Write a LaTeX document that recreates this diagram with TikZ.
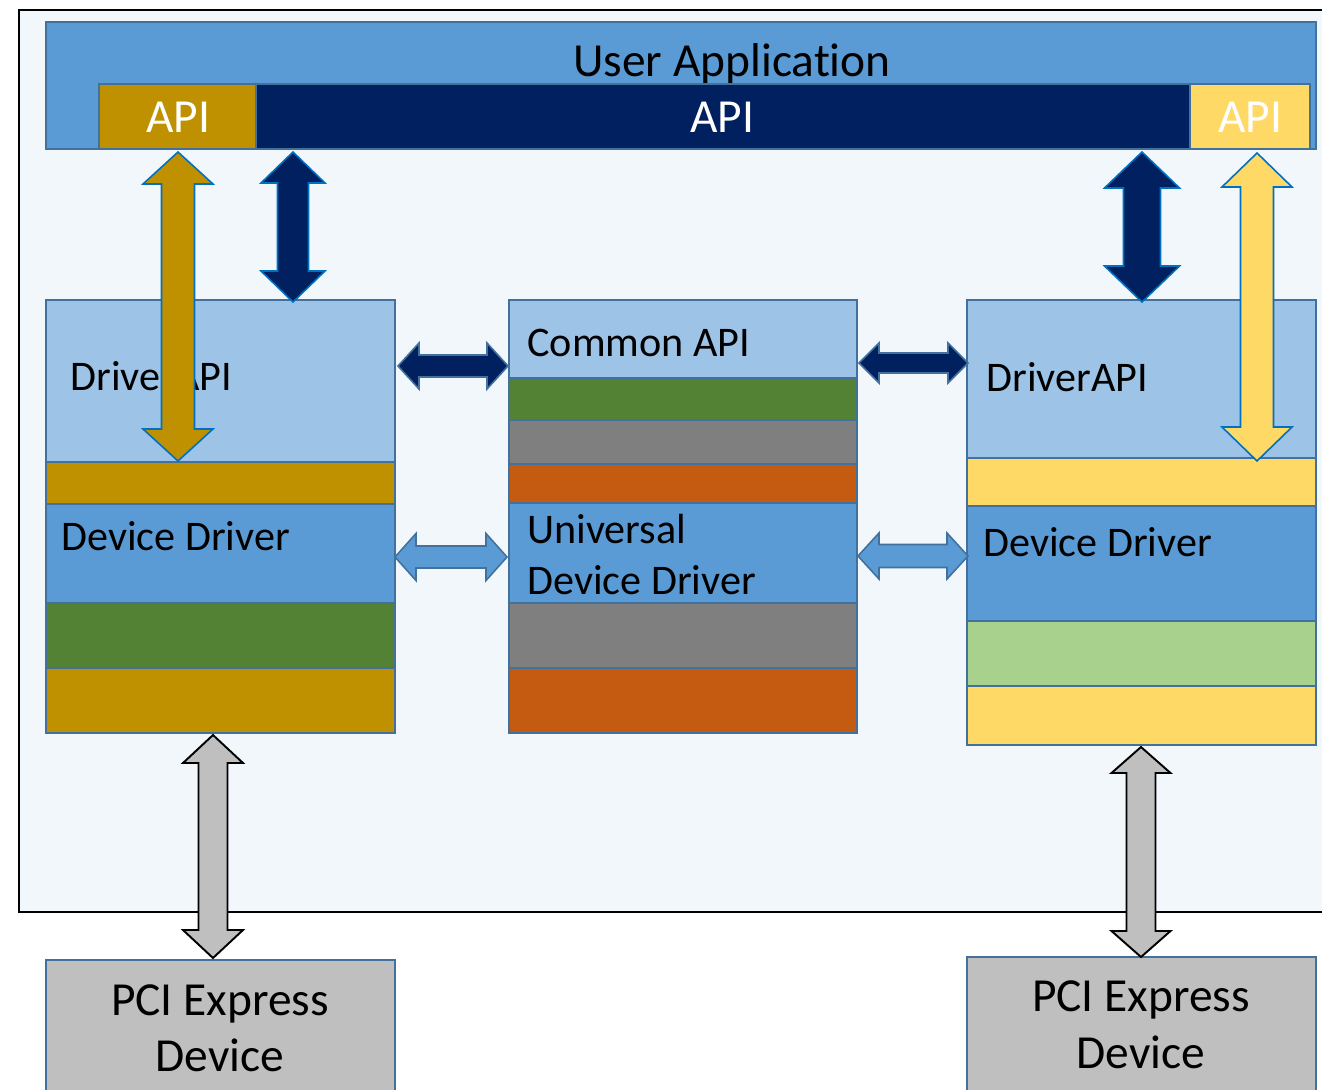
\documentclass[tikz,border=0pt]{standalone}
\usepackage{fontspec}
\setmainfont[Ligatures={NoCommon,NoContextual}]{Carlito}
\usetikzlibrary{calc}
\definecolor{bgc}{HTML}{F2F7FC}
\definecolor{ua}{HTML}{5B9BD5}
\definecolor{bd}{HTML}{41719C}
\definecolor{goldc}{HTML}{BF9000}
\definecolor{navy}{HTML}{002060}
\definecolor{yel}{HTML}{FFD966}
\definecolor{lblue}{HTML}{9DC3E6}
\definecolor{dgreen}{HTML}{548235}
\definecolor{lgreen}{HTML}{A9D18E}
\definecolor{grayc}{HTML}{7F7F7F}
\definecolor{orng}{HTML}{C55A11}
\definecolor{pcig}{HTML}{BFBFBF}
\definecolor{arrb}{HTML}{0070C0}
\tikzset{
  layer/.style={draw=bd, line width=1.2pt, inner sep=0, outer sep=0},
  lbl/.style={inner sep=0, anchor=base west, font=\fontsize{24}{28}\selectfont},
  bigc/.style={inner sep=0, anchor=base, font=\fontsize{27}{31}\selectfont},
  arrgold/.style={fill=goldc, draw=arrb, line width=0.9pt, line join=miter},
  arrnavy/.style={fill=navy, draw=arrb, line width=0.9pt, line join=miter},
  arryel/.style={fill=yel, draw=arrb, line width=0.9pt, line join=miter},
  arrhnavy/.style={fill=navy, draw=bd, line width=0.9pt, line join=miter},
  arrhblue/.style={fill=ua, draw=bd, line width=0.9pt, line join=miter},
  arrgray/.style={fill=pcig, draw=black, line width=1.1pt, line join=miter},
}
% #1 name, #2 x1, #3 y1, #4 x2, #5 y2, #6 fill
\newcommand\layer[6]{\node[layer, fill=#6, minimum width={(#4-#2)*0.02cm}, minimum height={(#5-#3)*0.02cm}, anchor=north west] (#1) at (#2,#3) {};}
% vertical double arrow: #1 style, #2 top tip, #3 bottom tip, #4 shaft half, #5 head half, #6 head length (px)
\newcommand\vdarrow[6]{\draw[#1] let \p1=(#2), \p2=(#3) in
  (\x1,\y1) -- (\x1+#5*0.56906pt,\y1-#6*0.56906pt) -- (\x1+#4*0.56906pt,\y1-#6*0.56906pt)
  -- (\x1+#4*0.56906pt,\y2+#6*0.56906pt) -- (\x1+#5*0.56906pt,\y2+#6*0.56906pt) -- (\x1,\y2)
  -- (\x1-#5*0.56906pt,\y2+#6*0.56906pt) -- (\x1-#4*0.56906pt,\y2+#6*0.56906pt)
  -- (\x1-#4*0.56906pt,\y1-#6*0.56906pt) -- (\x1-#5*0.56906pt,\y1-#6*0.56906pt) -- cycle;}
% horizontal double arrow: #2 left tip, #3 right tip
\newcommand\hdarrow[6]{\draw[#1] let \p1=(#2), \p2=(#3) in
  (\x1,\y1) -- (\x1+#6*0.56906pt,\y1+#5*0.56906pt) -- (\x1+#6*0.56906pt,\y1+#4*0.56906pt)
  -- (\x2-#6*0.56906pt,\y1+#4*0.56906pt) -- (\x2-#6*0.56906pt,\y1+#5*0.56906pt) -- (\x2,\y1)
  -- (\x2-#6*0.56906pt,\y1-#5*0.56906pt) -- (\x2-#6*0.56906pt,\y1-#4*0.56906pt)
  -- (\x1+#6*0.56906pt,\y1-#4*0.56906pt) -- (\x1+#6*0.56906pt,\y1-#5*0.56906pt) -- cycle;}
\begin{document}
\begin{tikzpicture}[x=0.02cm, y=-0.02cm]
\useasboundingbox (0,0) rectangle (1322,1089);
\fill[white] (0,0) rectangle (1322,1089);
% outer frame
\draw[fill=bgc, line width=1.4pt] (19,10) rectangle (1345,912);
% user application
\layer{ua}{46}{22}{1316}{149}{ua}
\node[bigc] (uat) at (732,76) {User Applicat\kern0pt ion};
\layer{apiL}{99}{84}{256}{149}{goldc}
\layer{apiM}{256}{84}{1190}{149}{navy}
\layer{apiR}{1190}{84}{1310}{149}{yel}
\node[bigc, text=white] (apiLt) at (178,132) {API};
\node[bigc, text=white] (apiMt) at (722,132) {API};
\node[bigc, text=white] (apiRt) at (1250,132) {API};
% left driver stack
\layer{l1}{46}{300}{395}{462}{lblue}
\layer{l2}{46}{462}{395}{504}{goldc}
\layer{l3}{46}{504}{395}{603}{ua}
\layer{l4}{46}{603}{395}{668}{dgreen}
\layer{l5}{46}{668}{395}{733}{goldc}
\node[lbl] (l1t) at (70,390) {DriverAPI};
\node[lbl] (l3t) at (61,550) {Device Driver};
% middle stack
\layer{m1}{509}{300}{857}{378}{lblue}
\layer{m2}{509}{378}{857}{420}{dgreen}
\layer{m3}{509}{420}{857}{464}{grayc}
\layer{m4}{509}{464}{857}{503}{orng}
\layer{m5}{509}{503}{857}{603}{ua}
\layer{m6}{509}{603}{857}{668}{grayc}
\layer{m7}{509}{668}{857}{733}{orng}
\node[lbl] (m1t) at (527,356) {Common API};
\node[lbl] (m5t) at (527,543) {Universal};
\node[lbl] (m5u) at (527,594) {Device Driver};
% right stack
\layer{r1}{967}{300}{1316}{458}{lblue}
\layer{r2}{967}{458}{1316}{506}{yel}
\layer{r3}{967}{506}{1316}{621}{ua}
\layer{r4}{967}{621}{1316}{686}{lgreen}
\layer{r5}{967}{686}{1316}{745}{yel}
\node[lbl] (r1t) at (986,391) {DriverAPI};
\node[lbl] (r3t) at (983,556) {Device Driver};
% PCI devices
\layer{pciL}{46}{960}{395}{1110}{pcig}
\layer{pciR}{967}{957}{1316}{1110}{pcig}
\node[bigc] (pciLa) at (220,1015) {PCI Express};
\node[bigc] (pciLb) at (220,1071) {Device};
\node[bigc] (pciRa) at (1141,1011) {PCI Express};
\node[bigc] (pciRb) at (1141,1068) {Device};
% arrow end points
\coordinate (ga) at (178,152);  \coordinate (gb) at (178,461);
\coordinate (na) at (293,152);  \coordinate (nb) at (293,302);
\coordinate (nc) at (1142,152); \coordinate (nd) at (1142,302);
\coordinate (ya) at (1257,153); \coordinate (yb) at (1257,461);
\coordinate (h1a) at (398,366); \coordinate (h1b) at (508,366);
\coordinate (h2a) at (859,363); \coordinate (h2b) at (968,363);
\coordinate (h3a) at (395,557); \coordinate (h3b) at (507,557);
\coordinate (h4a) at (858,556); \coordinate (h4b) at (968,556);
\coordinate (pa) at (213,735);  \coordinate (pb) at (213,958);
\coordinate (pc) at (1141,747); \coordinate (pd) at (1141,957);
% arrows
\vdarrow{arrgold}{ga}{gb}{16.5}{35}{32}
\vdarrow{arrnavy}{na}{nb}{15.5}{32}{31}
\vdarrow{arrnavy}{nc}{nd}{18.5}{37.5}{36}
\vdarrow{arryel}{ya}{yb}{16.5}{35}{34}
\hdarrow{arrhnavy}{h1a}{h1b}{11}{23}{21}
\hdarrow{arrhnavy}{h2a}{h2b}{10}{20}{20}
\hdarrow{arrhblue}{h3a}{h3b}{11}{23.5}{21}
\hdarrow{arrhblue}{h4a}{h4b}{11.5}{23}{21}
\vdarrow{arrgray}{pa}{pb}{14.5}{30}{28}
\vdarrow{arrgray}{pc}{pd}{14.5}{29.5}{26}
\end{tikzpicture}
\end{document}
